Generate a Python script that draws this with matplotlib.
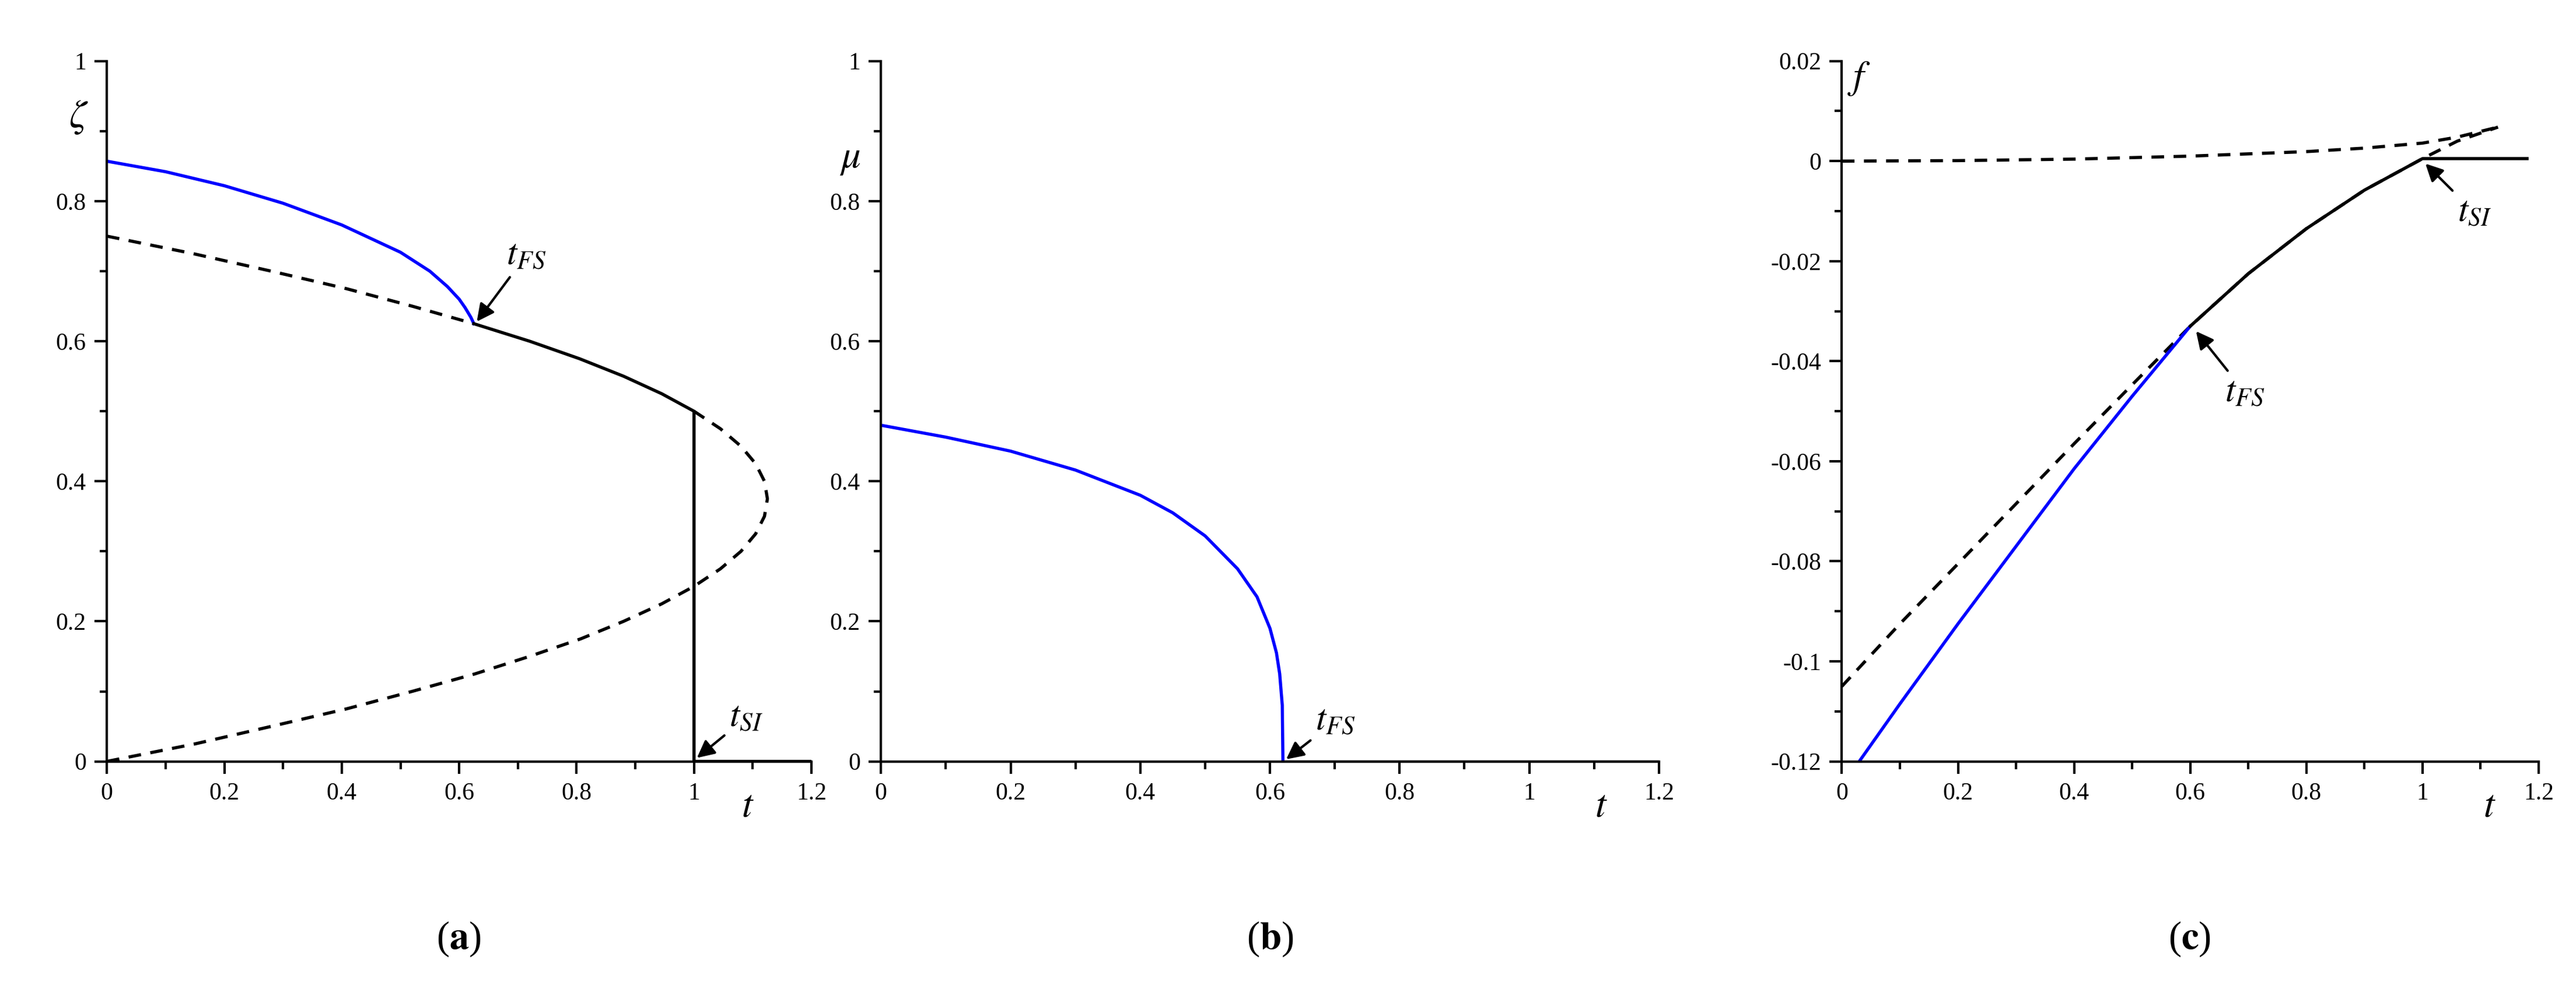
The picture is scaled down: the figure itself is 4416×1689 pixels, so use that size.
import matplotlib
matplotlib.use("Agg")
import matplotlib.pyplot as plt
from matplotlib.ticker import MultipleLocator, FuncFormatter

plt.rcParams['font.family'] = ['Liberation Serif', 'DejaVu Serif']
plt.rcParams['mathtext.fontset'] = 'stix'

# ---- Panel (a) data ----
a_dash_t = [0.0, 0.15, 0.28, 0.408, 0.52, 0.627, 0.72, 0.807, 0.88, 0.945, 1.0, 1.045, 1.08, 1.105, 1.12, 1.125,
            1.12, 1.105, 1.08, 1.045, 1.0]
a_dash_z = [0.0, 0.025, 0.05, 0.075, 0.1, 0.125, 0.15, 0.175, 0.2, 0.225, 0.25, 0.275, 0.3, 0.325, 0.35, 0.375,
            0.4, 0.425, 0.45, 0.475, 0.5]
a_dash2_t = [0.0, 0.147, 0.28, 0.408, 0.52, 0.625]
a_dash2_z = [0.75, 0.725, 0.7, 0.675, 0.65, 0.625]
a_blue_t = [0.0, 0.1, 0.2, 0.3, 0.4, 0.5, 0.55, 0.58, 0.6, 0.61, 0.62, 0.625]
a_blue_z = [0.857, 0.842, 0.822, 0.797, 0.766, 0.727, 0.70, 0.678, 0.66, 0.648, 0.634, 0.625]
a_blk_t = [0.625, 0.72, 0.805, 0.88, 0.945, 1.0, 1.0, 1.0, 1.2]
a_blk_z = [0.625, 0.6, 0.575, 0.55, 0.525, 0.5, 0.5, 0.0, 0.0]

# ---- Panel (b) data ----
b_blue_t = [0.0, 0.1, 0.2, 0.3, 0.4, 0.45, 0.5, 0.55, 0.58, 0.6, 0.61, 0.615, 0.619, 0.62]
b_blue_m = [0.48, 0.463, 0.443, 0.416, 0.38, 0.355, 0.322, 0.275, 0.235, 0.19, 0.155, 0.125, 0.08, 0.0]
b_blk_t = [0.62, 1.2]
b_blk_m = [0.0, 0.0]

# ---- Panel (c) data ----
c_dash_low_t = [0.0, 0.1, 0.2, 0.3, 0.4, 0.5, 0.6, 0.7, 0.8, 0.9, 1.0, 1.06, 1.13]
c_dash_low_f = [-0.105, -0.0925, -0.0805, -0.0685, -0.0565, -0.0447, -0.033, -0.0225, -0.0135, -0.0058, 0.0005, 0.004, 0.0068]
c_dash_up_t = [0.0, 0.2, 0.4, 0.6, 0.8, 0.9, 1.0, 1.06, 1.13]
c_dash_up_f = [0.0, 0.0001, 0.0004, 0.001, 0.0019, 0.0026, 0.0036, 0.0048, 0.0068]
c_blue_t = [0.03, 0.1, 0.2, 0.3, 0.4, 0.5, 0.6]
c_blue_f = [-0.12, -0.1085, -0.0925, -0.077, -0.0615, -0.047, -0.033]
c_blk_t = [0.6, 0.7, 0.8, 0.9, 1.0, 1.18]
c_blk_f = [-0.033, -0.0225, -0.0135, -0.0058, 0.0005, 0.0005]

fig = plt.figure(figsize=(14.72, 5.63), dpi=300)
axa = fig.add_axes([0.0415, 0.227, 0.2735, 0.711])
axb = fig.add_axes([0.342, 0.227, 0.302, 0.711])
axc = fig.add_axes([0.715, 0.227, 0.2705, 0.711])

def fmt(v, p):
    s = ('%.2f' % v).rstrip('0').rstrip('.')
    if s in ('-0', ''):
        s = '0'
    return s

for ax in (axa, axb, axc):
    for s in ('top', 'right'):
        ax.spines[s].set_visible(False)
    for s in ('left', 'bottom'):
        ax.spines[s].set_linewidth(1.0)
    ax.xaxis.set_major_locator(MultipleLocator(0.2))
    ax.xaxis.set_minor_locator(MultipleLocator(0.1))
    ax.xaxis.set_major_formatter(FuncFormatter(fmt))
    ax.yaxis.set_major_formatter(FuncFormatter(fmt))
    ax.tick_params(which='major', length=5, width=1, labelsize=10, direction='out')
    ax.tick_params(which='minor', length=3, width=1, direction='out')
    ax.set_xlim(0, 1.2)

lw = 1.3
arrow = dict(arrowstyle='-|>', color='k', lw=1, shrinkA=0, shrinkB=0)
axa.plot(a_dash_t, a_dash_z, 'k--', lw=lw, dashes=(4, 3))
axa.plot(a_dash2_t, a_dash2_z, 'k--', lw=lw, dashes=(4, 3))
axa.plot(a_blue_t, a_blue_z, color='#0000ff', lw=lw)
axa.plot(a_blk_t, a_blk_z, 'k-', lw=lw)
axa.set_ylim(0, 1)
axa.yaxis.set_major_locator(MultipleLocator(0.2))
axa.yaxis.set_minor_locator(MultipleLocator(0.1))
axa.annotate(r'$t_{FS}$', xy=(0.63, 0.628), xytext=(0.68, 0.71), fontsize=15, arrowprops=arrow)
axa.annotate(r'$t_{SI}$', xy=(1.005, 0.005), xytext=(1.06, 0.05), fontsize=15, arrowprops=arrow)

axb.plot(b_blue_t, b_blue_m, color='#0000ff', lw=lw)
axb.plot(b_blk_t, b_blk_m, 'k-', lw=lw)
axb.set_ylim(0, 1)
axb.yaxis.set_major_locator(MultipleLocator(0.2))
axb.yaxis.set_minor_locator(MultipleLocator(0.1))
axb.annotate(r'$t_{FS}$', xy=(0.625, 0.003), xytext=(0.67, 0.045), fontsize=15, arrowprops=arrow)

axc.plot(c_dash_low_t, c_dash_low_f, 'k--', lw=lw, dashes=(4, 3))
axc.plot(c_dash_up_t, c_dash_up_f, 'k--', lw=lw, dashes=(4, 3))
axc.plot(c_blue_t, c_blue_f, color='#0000ff', lw=lw)
axc.plot(c_blk_t, c_blk_f, 'k-', lw=lw)
axc.set_ylim(-0.12, 0.02)
axc.yaxis.set_major_locator(MultipleLocator(0.02))
axc.yaxis.set_minor_locator(MultipleLocator(0.01))
axc.annotate(r'$t_{FS}$', xy=(0.61, -0.034), xytext=(0.66, -0.048), fontsize=15, arrowprops=arrow)
axc.annotate(r'$t_{SI}$', xy=(1.005, -0.0005), xytext=(1.06, -0.012), fontsize=15, arrowprops=arrow)

# axis labels
axa.text(-0.04, 0.92, r'$\zeta$', transform=axa.transAxes, fontsize=16, ha='center', va='center')
axb.text(-0.04, 0.86, r'$\mu$', transform=axb.transAxes, fontsize=16, ha='center', va='center')
axc.text(0.025, 0.975, r'$f$', transform=axc.transAxes, fontsize=16, ha='center', va='center')
for ax, x in ((axa, 0.91), (axb, 0.926), (axc, 0.93)):
    ax.text(x, -0.065, r'$t$', transform=ax.transAxes, fontsize=16, ha='center', va='center')

for x, l in ((0.178, 'a'), (0.493, 'b'), (0.85, 'c')):
    fig.text(x, 0.047, r'($\mathbf{%s}$)' % l, fontsize=16, ha='center', va='center')

fig.savefig('out.png', dpi=300)
